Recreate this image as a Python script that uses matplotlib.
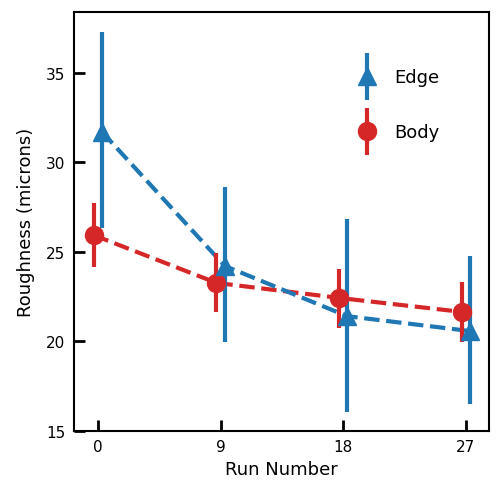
import matplotlib
matplotlib.use("Agg")
import matplotlib.pyplot as plt
from matplotlib.container import ErrorbarContainer
from matplotlib.legend_handler import HandlerErrorbar

runs = [0, 9, 18, 27]

# Body (circles)
body_mean = [25.93, 23.27, 22.43, 21.65]
body_lo = [24.15, 21.64, 20.76, 19.98]
body_hi = [27.73, 24.94, 24.05, 23.31]

# Edge (triangles)
edge_mean = [31.7, 24.22, 21.41, 20.58]
edge_lo = [26.34, 19.98, 16.06, 16.49]
edge_hi = [37.27, 28.62, 26.86, 24.76]

blue = '#1f77b4'
red = '#d62728'
dodge = 0.3

plt.rcParams['font.family'] = 'DejaVu Sans'

fig = plt.figure(figsize=(5.03, 4.89), dpi=100)
ax = fig.add_axes([0.147, 0.1166, 0.825, 0.857])

bx = [r - dodge for r in runs]
ex = [r + dodge for r in runs]

b_err = [[m - l for m, l in zip(body_mean, body_lo)], [h - m for m, h in zip(body_mean, body_hi)]]
e_err = [[m - l for m, l in zip(edge_mean, edge_lo)], [h - m for m, h in zip(edge_mean, edge_hi)]]

ax.plot(bx, body_mean, ls='--', color=red, lw=3, zorder=2)
body = ax.errorbar(bx, body_mean, yerr=b_err, fmt='o', color=red, ms=13, elinewidth=3, capsize=0,
                   label='Body', zorder=3)
ax.plot(ex, edge_mean, ls='--', color=blue, lw=3, zorder=2)
edge = ax.errorbar(ex, edge_mean, yerr=e_err, fmt='^', color=blue, ms=13, elinewidth=3, capsize=0,
                   label='Edge', zorder=3)

ax.set_xlim(-1.76, 28.7)
ax.set_ylim(15, 38.4)
ax.set_xticks(runs)
ax.set_xticklabels([str(r) for r in runs])
ax.set_yticks([15, 20, 25, 30, 35])

ax.tick_params(direction='in', length=8, width=2, labelsize=11, pad=6)
for s in ax.spines.values():
    s.set_linewidth(1.5)

ax.set_xlabel('Run Number', fontsize=13, labelpad=4)
ax.set_ylabel('Roughness (microns)', fontsize=13, labelpad=8)

ax.legend(handles=[edge, body], loc='upper right', frameon=False, fontsize=13,
          handlelength=1.5, handletextpad=0.75, labelspacing=2.05,
          bbox_to_anchor=(0.919, 0.904),
          handler_map={ErrorbarContainer: HandlerErrorbar(yerr_size=1.3)})

fig.savefig('out.png', dpi=100)
